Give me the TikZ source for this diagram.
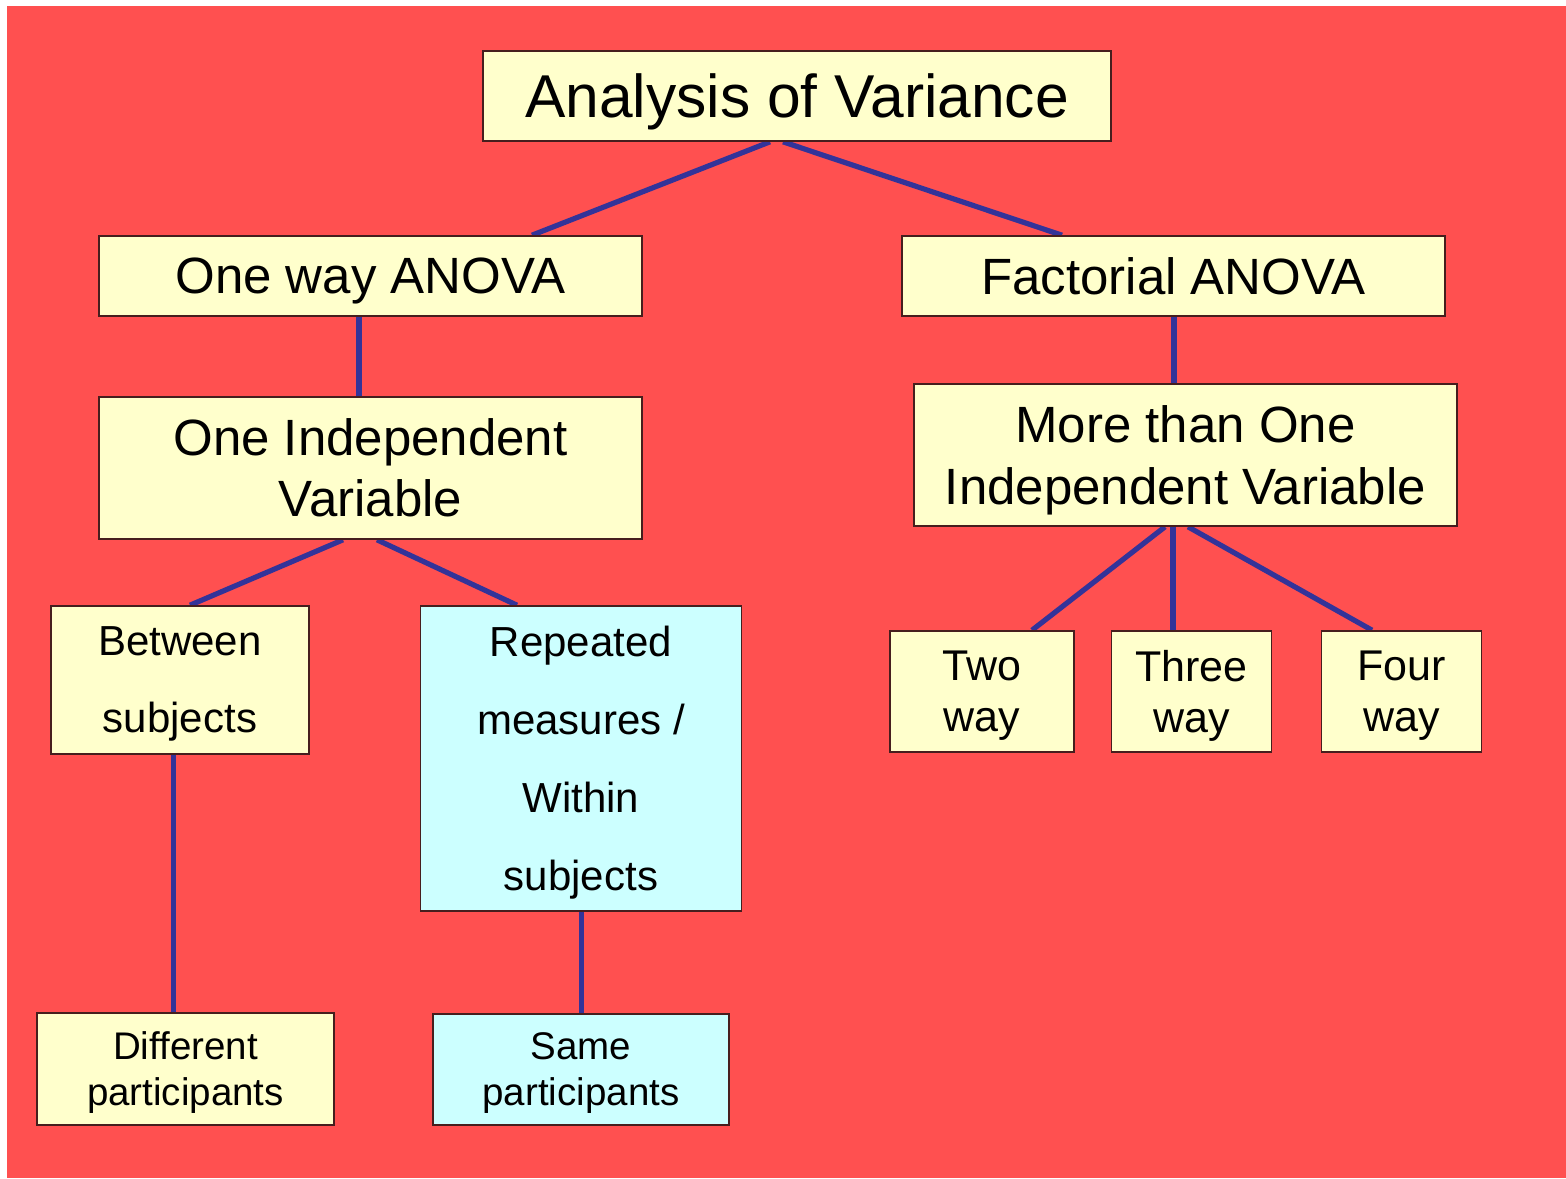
\documentclass[tikz,border=0pt]{standalone}
\usepackage{fontspec}
\setmainfont{Liberation Sans}
\definecolor{bgred}{RGB}{255,80,80}
\definecolor{ylw}{RGB}{255,255,204}
\definecolor{cyn}{RGB}{204,255,255}
\definecolor{linkblue}{RGB}{51,51,153}
\definecolor{boxline}{RGB}{70,30,30}
\pgfdeclarelayer{bg}
\pgfsetlayers{bg,main}
\begin{document}
\begin{tikzpicture}[x=1pt,y=-1pt,
  box/.style={draw=boxline,line width=1.6pt,fill=ylw,inner sep=0pt,align=center,text depth=0pt},
  cbox/.style={box,fill=cyn},
  link/.style={draw=linkblue,line width=5.2pt}]
\useasboundingbox (0,0) rectangle (1566,1178);
\node[box,minimum width=628pt,minimum height=90pt,font=\fontsize{60.5}{70}\selectfont] (top) at (797,96) {Analysis of Variance};
\node[box,minimum width=543pt,minimum height=80pt,font=\fontsize{51}{61}\selectfont] (oneway) at (370.5,276) {One way ANOVA};
\node[box,minimum width=543pt,minimum height=80pt,font=\fontsize{51}{61}\selectfont] (fact) at (1173.5,276) {Factorial ANOVA};
\node[box,minimum width=543pt,minimum height=142pt,font=\fontsize{51}{61}\selectfont] (oneiv) at (370.5,468) {One Independent\\Variable};
\node[box,minimum width=543pt,minimum height=142pt,font=\fontsize{51}{62}\selectfont] (more) at (1185.5,455) {More than One\\Independent Variable};
\node[box,minimum width=258pt,minimum height=148pt,font=\fontsize{42}{77}\selectfont] (between) at (180,680) {Between\\subjects};
\node[cbox,minimum width=321pt,minimum height=305pt,font=\fontsize{42}{78}\selectfont] (rep) at (581,758.5) {Repeated\\measures /\\Within\\subjects};
\node[box,minimum width=184pt,minimum height=121pt,font=\fontsize{43}{51}\selectfont] (two) at (982,691.5) {Two\\way};
\node[box,minimum width=160pt,minimum height=121pt,font=\fontsize{43}{51}\selectfont] (three) at (1191.5,691.5) {Three\\way};
\node[box,minimum width=160pt,minimum height=121pt,font=\fontsize{43}{51}\selectfont] (four) at (1401.5,691.5) {Four\\way};
\node[box,minimum width=297pt,minimum height=112pt,font=\fontsize{38.5}{46}\selectfont] (diff) at (185.5,1069) {Different\\participants};
\node[cbox,minimum width=296pt,minimum height=111pt,font=\fontsize{38.5}{46}\selectfont] (same) at (581,1069.5) {Same\\participants};
\begin{pgfonlayer}{bg}
\fill[white] (0,0) rectangle (1566,1178);
\fill[bgred] (7,6) rectangle (1566,1178);
\draw[link] ([xshift=-27pt]top.south) -- ([xshift=161.5pt]oneway.north);
\draw[link] ([xshift=-14pt]top.south) -- ([xshift=-111.5pt]fact.north);
\draw[link] ([xshift=-11.5pt]oneway.south) -- ([xshift=-11.5pt]oneiv.north);
\draw[link] ([xshift=0.5pt]fact.south) -- ([xshift=-11.5pt]more.north);
\draw[link] ([xshift=-27.5pt]oneiv.south) -- ([xshift=10pt]between.north);
\draw[link] ([xshift=6.5pt]oneiv.south) -- ([xshift=-64pt]rep.north);
\draw[link] ([xshift=-20.5pt]more.south) -- ([xshift=50pt]two.north);
\draw[link] ([xshift=-12.5pt]more.south) -- ([xshift=-18.5pt]three.north);
\draw[link] ([xshift=2.5pt]more.south) -- ([xshift=-29.5pt]four.north);
\draw[link] ([xshift=-6.5pt]between.south) -- ([xshift=-12pt]diff.north);
\draw[link] ([xshift=0.5pt]rep.south) -- ([xshift=0.5pt]same.north);
\end{pgfonlayer}
\end{tikzpicture}
\end{document}
